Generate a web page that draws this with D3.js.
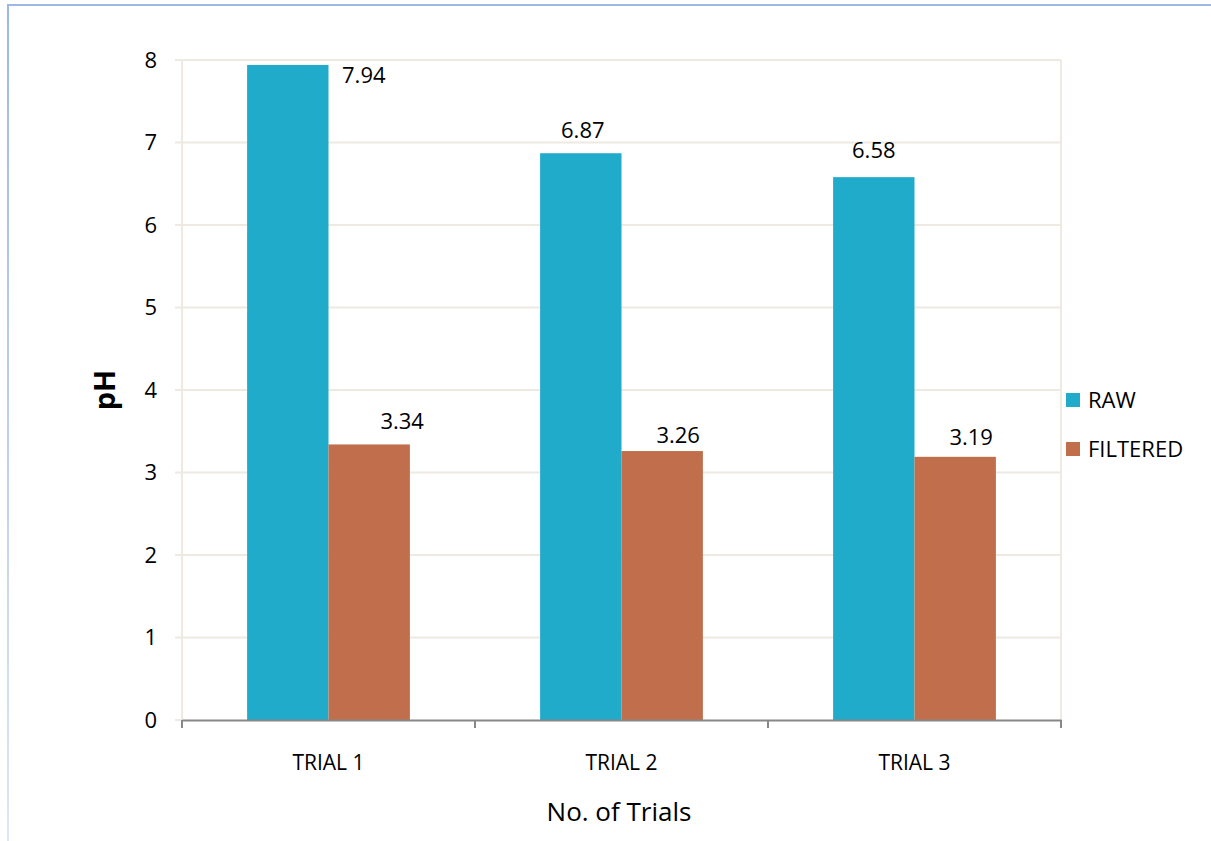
<!DOCTYPE html>
<html>
<head>
<meta charset="utf-8">
<script src="https://cdn.jsdelivr.net/npm/d3@7"></script>
<style>
  html, body { margin: 0; padding: 0; background: #fff; }
  svg { display: block; }
  text { font-family: "Open Sans", "Liberation Sans", sans-serif; fill: #000; }
</style>
</head>
<body>
<svg id="chart" width="1211" height="841"></svg>
<script>
// pH readings per trial
const categories = ["TRIAL 1", "TRIAL 2", "TRIAL 3"];
const seriesNames = ["RAW", "FILTERED"];
const rawValues = [7.94, 6.87, 6.58];
const filteredValues = [3.34, 3.26, 3.19];
const yTicks = [0, 1, 2, 3, 4, 5, 6, 7, 8];

const colors = { RAW: "#21abcb", FILTERED: "#c06e4b" };
// label nudges (px) relative to the bar's centre/top
const labelOffsets = {
  RAW: [[76, 18], [2, -15], [0, -19]],
  FILTERED: [[33, -15], [16, -8], [16, -12]]
};

const svg = d3.select("#chart");
const W = 1211, H = 841;
const plot = { left: 182, right: 1061, top: 60, bottom: 720 };

// frame border
const grad = svg.append("defs").append("linearGradient")
  .attr("id", "frameGrad").attr("x1", 0).attr("y1", 0).attr("x2", 0).attr("y2", 1);
grad.append("stop").attr("offset", "0%").attr("stop-color", "#9db7e6");
grad.append("stop").attr("offset", "100%").attr("stop-color", "#dde6f6");
svg.append("line").attr("x1", 7).attr("x2", W).attr("y1", 5).attr("y2", 5)
  .attr("stroke", "#9db7e6").attr("stroke-width", 2);
svg.append("rect").attr("x", 7).attr("y", 4).attr("width", 2).attr("height", H - 4)
  .attr("fill", "url(#frameGrad)");

const x0 = d3.scaleBand().domain(categories).range([plot.left, plot.right]).padding(0);
const x1 = d3.scaleBand().domain(seriesNames).range([0, x0.bandwidth()])
  .paddingInner(0).paddingOuter(0.8);
const y = d3.scaleLinear().domain([0, 8]).range([plot.bottom, plot.top]);

// gridlines
const grid = svg.append("g");
grid.selectAll("line").data(yTicks.filter(t => t > 0)).join("line")
  .attr("x1", plot.left - 7).attr("x2", plot.right)
  .attr("y1", d => y(d)).attr("y2", d => y(d))
  .attr("stroke", "#eeeae1").attr("stroke-width", 2);
grid.append("line").attr("x1", plot.left - 7).attr("x2", plot.left)
  .attr("y1", y(0)).attr("y2", y(0)).attr("stroke", "#eeeae1").attr("stroke-width", 2);
// left and right plot edges
grid.append("line").attr("x1", plot.left).attr("x2", plot.left)
  .attr("y1", plot.top).attr("y2", plot.bottom).attr("stroke", "#eeeae1").attr("stroke-width", 2);
grid.append("line").attr("x1", plot.right).attr("x2", plot.right)
  .attr("y1", plot.top).attr("y2", plot.bottom).attr("stroke", "#eeeae1").attr("stroke-width", 2);

// y axis labels
const yAxis = d3.axisLeft(y).tickValues(yTicks).tickSize(0).tickPadding(25).tickFormat(d3.format("d"));
const yg = svg.append("g").attr("transform", `translate(${plot.left},0)`).call(yAxis);
yg.select(".domain").remove();
yg.selectAll("text").style("font-size", "22px").style("font-family", '"Open Sans", sans-serif').attr("fill", "#000");

// bars
const rows = categories.map((c, i) => ({
  cat: c,
  values: [
    { key: "RAW", value: rawValues[i], i },
    { key: "FILTERED", value: filteredValues[i], i }
  ]
}));

const groups = svg.append("g").selectAll("g").data(rows).join("g")
  .attr("transform", d => `translate(${x0(d.cat)},0)`);
groups.selectAll("rect").data(d => d.values).join("rect")
  .attr("x", d => x1(d.key))
  .attr("y", d => y(d.value))
  .attr("width", x1.bandwidth())
  .attr("height", d => y(0) - y(d.value))
  .attr("fill", d => colors[d.key]);

groups.selectAll("text.val").data(d => d.values).join("text")
  .attr("class", "val")
  .attr("x", d => x1(d.key) + x1.bandwidth() / 2 + labelOffsets[d.key][d.i][0])
  .attr("y", d => y(d.value) + labelOffsets[d.key][d.i][1])
  .attr("text-anchor", "middle")
  .style("font-size", "22px")
  .text(d => d.value.toFixed(2));

// x axis
const xAxis = d3.axisBottom(x0).tickSize(0).tickPadding(35);
const xg = svg.append("g").attr("transform", `translate(0,${plot.bottom})`).call(xAxis);
xg.select(".domain").attr("stroke", "#878787").attr("stroke-width", 2);
xg.selectAll("text").style("font-size", "21px").style("font-family", '"Open Sans", sans-serif').attr("fill", "#000");
const boundaries = categories.map(c => x0(c)).concat([plot.right]);
xg.selectAll("line.bnd").data(boundaries).join("line").attr("class", "bnd")
  .attr("x1", d => d).attr("x2", d => d).attr("y1", 0).attr("y2", 8)
  .attr("stroke", "#878787").attr("stroke-width", 2);

// axis titles
svg.append("text").attr("x", 619).attr("y", 821)
  .attr("text-anchor", "middle").style("font-size", "26px").text("No. of Trials");
svg.append("text").attr("transform", `translate(115,${(plot.top + plot.bottom) / 2}) rotate(-90)`)
  .attr("text-anchor", "middle").style("font-size", "29px").style("font-weight", "bold").text("pH");

// legend
const legend = svg.append("g").selectAll("g").data(seriesNames).join("g")
  .attr("transform", (d, i) => `translate(1066,${393 + i * 49})`);
legend.append("rect").attr("width", 14).attr("height", 14).attr("fill", d => colors[d]);
legend.append("text").attr("x", 22).attr("y", 15).style("font-size", "22px").text(d => d);
</script>
</body>
</html>
